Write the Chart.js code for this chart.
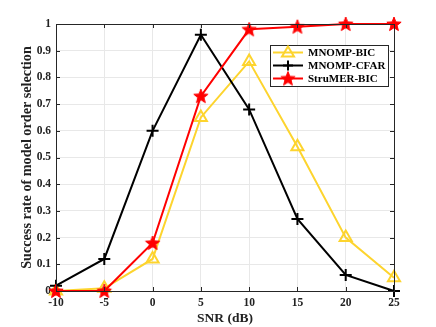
<!DOCTYPE html>
<html>
<head>
<meta charset="utf-8">
<script src="https://cdn.jsdelivr.net/npm/chart.js@4.4.0/dist/chart.umd.min.js"></script>
<style>
html, body { margin: 0; padding: 0; background: #fff; }
</style>
</head>
<body>
<canvas id="snrChart" width="436" height="327"></canvas>
<script>
// data
const snrDb = [-10, -5, 0, 5, 10, 15, 20, 25];
const mnompBic = [0, 0.01, 0.12, 0.65, 0.86, 0.54, 0.20, 0.05];
const mnompCfar = [0.02, 0.12, 0.60, 0.96, 0.68, 0.27, 0.06, 0];
const strumerBic = [0, 0, 0.18, 0.73, 0.98, 0.99, 1, 1];
const seriesNames = ['MNOMP-BIC', 'MNOMP-CFAR', 'StruMER-BIC'];

const YELLOW = '#FDD42E';
const RED = '#FF0000';
const BLACK = '#000000';
const AXIS = '#262626';
const FONT = "'Liberation Serif', 'Times New Roman', serif";

// filled five point star, used as point style
function makeStar(size, rOut, rIn, color) {
    const c = document.createElement('canvas');
    c.width = size; c.height = size;
    const g = c.getContext('2d');
    const cx = size / 2, cy = size / 2 + 0.5;
    g.beginPath();
    for (let i = 0; i < 10; i++) {
        const r = i % 2 === 0 ? rOut : rIn;
        const a = -Math.PI / 2 + i * Math.PI / 5;
        const px = cx + r * Math.cos(a), py = cy + r * Math.sin(a);
        if (i === 0) g.moveTo(px, py); else g.lineTo(px, py);
    }
    g.closePath();
    g.fillStyle = color;
    g.fill();
    g.lineWidth = 1;
    g.strokeStyle = color;
    g.stroke();
    return c;
}
const starImg = makeStar(18, 7.5, 3.2, RED);

function pts(ys) {
    return ys.map((y, i) => ({ x: snrDb[i], y: y }));
}

// ticks pointing inward + box around the axes
const boxTicks = {
    id: 'boxTicks',
    afterDatasetsDraw(chart) {
        const { ctx, chartArea: a, scales } = chart;
        ctx.save();
        ctx.strokeStyle = AXIS;
        ctx.lineWidth = 1;
        ctx.beginPath();
        scales.x.ticks.forEach(t => {
            const px = Math.round(scales.x.getPixelForValue(t.value)) + 0.5;
            ctx.moveTo(px, a.bottom); ctx.lineTo(px, a.bottom - 4);
            ctx.moveTo(px, a.top); ctx.lineTo(px, a.top + 4);
        });
        scales.y.ticks.forEach(t => {
            const py = Math.round(scales.y.getPixelForValue(t.value)) + 0.5;
            ctx.moveTo(a.left, py); ctx.lineTo(a.left + 4, py);
            ctx.moveTo(a.right, py); ctx.lineTo(a.right - 4, py);
        });
        ctx.stroke();
        ctx.strokeRect(Math.round(a.left) + 0.5, Math.round(a.top) + 0.5,
            Math.round(a.right - a.left), Math.round(a.bottom - a.top));
        ctx.restore();
    }
};

// legend box inside the plot, upper right
const innerLegend = {
    id: 'innerLegend',
    afterDraw(chart) {
        const { ctx } = chart;
        const x0 = 270, y0 = 45, w = 118, h = 41;
        ctx.save();
        ctx.fillStyle = '#fff';
        ctx.fillRect(x0, y0, w, h);
        ctx.strokeStyle = AXIS;
        ctx.lineWidth = 1;
        ctx.strokeRect(x0 + 0.5, y0 + 0.5, w, h);
        const rows = [52.5, 65.5, 78.5];
        const colors = [YELLOW, BLACK, RED];
        ctx.font = 'bold 11px ' + FONT;
        ctx.textBaseline = 'middle';
        rows.forEach((y, i) => {
            ctx.strokeStyle = colors[i];
            ctx.lineWidth = 2;
            ctx.beginPath();
            ctx.moveTo(273, y); ctx.lineTo(303, y);
            ctx.stroke();
            const mx = 288;
            if (i === 0) {
                ctx.beginPath();
                ctx.moveTo(mx, y - 6); ctx.lineTo(mx + 6, y + 4); ctx.lineTo(mx - 6, y + 4);
                ctx.closePath();
                ctx.stroke();
            } else if (i === 1) {
                ctx.beginPath();
                ctx.moveTo(mx - 5, y); ctx.lineTo(mx + 5, y);
                ctx.moveTo(mx, y - 5); ctx.lineTo(mx, y + 5);
                ctx.stroke();
            } else {
                ctx.drawImage(starImg, mx - 9, y - 9);
            }
            ctx.fillStyle = '#000';
            ctx.fillText(seriesNames[i], 308, y + 0.5);
        });
        ctx.restore();
    }
};

new Chart(document.getElementById('snrChart').getContext('2d'), {
    type: 'line',
    data: {
        datasets: [
            {
                label: seriesNames[0],
                data: pts(mnompBic),
                borderColor: YELLOW,
                backgroundColor: 'rgba(0,0,0,0)',
                borderWidth: 2,
                pointStyle: 'triangle',
                pointRadius: 7,
                pointBorderWidth: 2,
                pointBorderColor: YELLOW,
                pointBackgroundColor: 'rgba(0,0,0,0)',
                order: 3
            },
            {
                label: seriesNames[1],
                data: pts(mnompCfar),
                borderColor: BLACK,
                backgroundColor: BLACK,
                borderWidth: 2,
                pointStyle: 'cross',
                pointRadius: 6,
                pointBorderWidth: 2,
                pointBorderColor: BLACK,
                order: 2
            },
            {
                label: seriesNames[2],
                data: pts(strumerBic),
                borderColor: RED,
                backgroundColor: RED,
                borderWidth: 2,
                pointStyle: starImg,
                order: 1
            }
        ]
    },
    options: {
        responsive: false,
        animation: false,
        clip: false,
        layout: { padding: { left: 0, right: 42, top: 24, bottom: 0 } },
        plugins: {
            legend: { display: false },
            tooltip: { enabled: false }
        },
        scales: {
            x: {
                type: 'linear',
                min: -10,
                max: 25,
                afterFit: s => { s.height = 36; },
                ticks: {
                    stepSize: 5,
                    color: '#222',
                    padding: 5,
                    font: { family: FONT, size: 11.5, weight: 'bold' }
                },
                grid: { color: '#e8e8e8', drawTicks: false },
                border: { display: false },
                title: {
                    display: true,
                    text: 'SNR (dB)',
                    color: '#222',
                    padding: { top: 0, bottom: 0 },
                    font: { family: FONT, size: 13.5, weight: 'bold' }
                }
            },
            y: {
                min: 0,
                max: 1,
                afterFit: s => { s.width = 56; },
                ticks: {
                    stepSize: 0.1,
                    color: '#222',
                    padding: 5,
                    font: { family: FONT, size: 11.5, weight: 'bold' },
                    callback: v => String(Math.round(v * 10) / 10)
                },
                grid: { color: '#e8e8e8', drawTicks: false },
                border: { display: false },
                title: {
                    display: true,
                    text: 'Success rate of model order selection',
                    color: '#222',
                    padding: { top: 18.5, bottom: 0 },
                    font: { family: FONT, size: 14.2, weight: 'bold' }
                }
            }
        }
    },
    plugins: [boxTicks, innerLegend]
});
</script>
</body>
</html>
